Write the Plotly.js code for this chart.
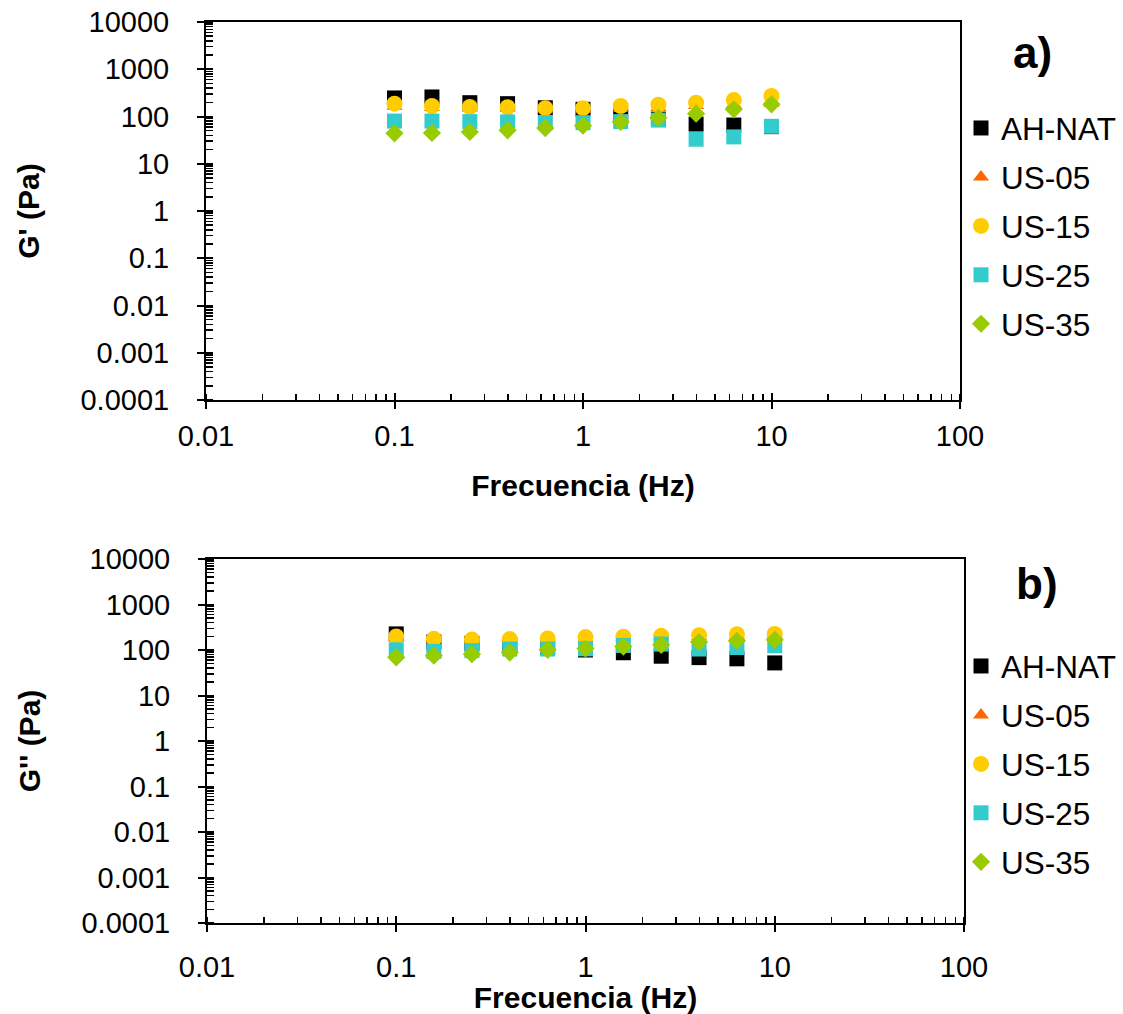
<!DOCTYPE html>
<html>
<head>
<meta charset="utf-8">
<script src="https://cdn.plot.ly/plotly-3.0.1.min.js"></script>
<style>html,body{margin:0;padding:0;background:#fff;}#chart{width:1123px;height:1014px;}</style>
</head>
<body>
<div id="chart"></div>
<script>
// Frequencies (Hz)
const freq = [0.1, 0.158, 0.251, 0.398, 0.631, 1.0, 1.585, 2.512, 3.981, 6.31, 10.0];

// Panel a) G' (Pa)
const gp_AHNAT = [247, 259, 196, 187, 153, 142, 102, 88, 69, 66, 61];
const gp_US05  = [165, 155, 150, 150, 145, 145, 150, 155, 170, 180, 190];
const gp_US15  = [187, 167, 159, 157, 150, 150, 167, 178, 196, 223, 272];
const gp_US25  = [80, 80, 78, 77, 74, 74, 78, 84, 33, 37, 62];
const gp_US35  = [44, 45, 47, 51, 57, 64, 77, 94, 115, 142, 181];

// Panel b) G'' (Pa)
const gpp_AHNAT = [226, 150, 140, 130, 115, 100, 87, 73, 68, 64, 52];
const gpp_US05  = [188, 167, 162, 165, 171, 182, 186, 195, 201, 212, 215];
const gpp_US15  = [198, 176, 171, 174, 180, 192, 196, 205, 212, 223, 226];
const gpp_US25  = [101, 93, 97, 105, 105, 106, 126, 135, 105, 113, 124];
const gpp_US35  = [69, 75, 81, 88, 101, 108, 119, 130, 149, 159, 167];

const seriesNames = ["AH-NAT", "US-05", "US-15", "US-25", "US-35"];
const seriesColors = ["#000000", "#FF6600", "#FFCC00", "#33CCCC", "#99CC00"];
const seriesSymbols = ["square", "triangle-up", "circle", "square", "diamond"];
const seriesSizes = [15, 14, 16, 15, 14];

const yTickVals = [0.0001, 0.001, 0.01, 0.1, 1, 10, 100, 1000, 10000];
const yTickText = ["0.0001", "0.001", "0.01", "0.1", "1", "10", "100", "1000", "10000"];
const xTickVals = [0.01, 0.1, 1, 10, 100];
const xTickText = ["0.01", "0.1", "1", "10", "100"];

const panelA = [gp_AHNAT, gp_US05, gp_US15, gp_US25, gp_US35];
const panelB = [gpp_AHNAT, gpp_US05, gpp_US15, gpp_US25, gpp_US35];

const FONT = "Arial, Liberation Sans, sans-serif";
const TICKSIZE = 29, TITLESIZE = 30, LEGSIZE = 31.5;
const traces = [];
function addPanel(data, xa, ya, legendId) {
  data.forEach((vals, i) => {
    traces.push({
      type: "scatter", mode: "markers",
      x: freq, y: vals, xaxis: xa, yaxis: ya,
      name: seriesNames[i], legend: legendId, legendgroup: legendId + i,
      marker: {symbol: seriesSymbols[i], color: seriesColors[i], size: seriesSizes[i], line: {width: 0}},
      cliponaxis: false
    });
  });
}
addPanel(panelA, "x", "y", "legend");
addPanel(panelB, "x2", "y2", "legend2");
// empty helper traces so the tick-only overlay axes get drawn
traces.push({type: "scatter", mode: "markers", x: [], y: [], xaxis: "x3", yaxis: "y3", showlegend: false, hoverinfo: "skip"});
traces.push({type: "scatter", mode: "markers", x: [], y: [], xaxis: "x4", yaxis: "y4", showlegend: false, hoverinfo: "skip"});

function xAxis(domain, anchor, labelStandoff, titleStandoff) {
  return {
    type: "log", domain: domain, anchor: anchor, range: [-2, 2],
    tickvals: xTickVals, ticktext: xTickText,
    showline: true, linecolor: "#000", linewidth: 2, mirror: true,
    ticks: "outside", ticklen: 7, tickwidth: 2, tickcolor: "#000",
    ticklabelstandoff: labelStandoff,
    minor: {ticks: "inside", ticklen: 6, tickwidth: 1.5, tickcolor: "#000", dtick: "D1", showgrid: false},
    showgrid: false, zeroline: false,
    tickfont: {family: FONT, size: TICKSIZE, color: "#000"},
    title: {text: "<b>Frecuencia (Hz)</b>", font: {family: FONT, size: TITLESIZE, color: "#000"}, standoff: titleStandoff}
  };
}
function yAxis(domain, anchor, title) {
  return {
    type: "log", domain: domain, anchor: anchor, range: [-4, 4],
    tickvals: yTickVals, ticktext: yTickText,
    showline: true, linecolor: "#000", linewidth: 2, mirror: true,
    ticks: "outside", ticklen: 7, tickwidth: 2, tickcolor: "#000",
    ticklabelstandoff: 22,
    minor: {ticks: "inside", ticklen: 7, tickwidth: 1.5, tickcolor: "#000", dtick: "D1", showgrid: false},
    showgrid: false, zeroline: false,
    tickfont: {family: FONT, size: TICKSIZE, color: "#000"},
    title: {text: "<b>" + title + "</b>", font: {family: FONT, size: TITLESIZE, color: "#000"}, standoff: 32}
  };
}
// overlay axes that only add the inner half of the major ticks (crossing ticks)
function xInner(over, anchor, domain) {
  return {type: "log", overlaying: over, anchor: anchor, domain: domain, range: [-2, 2],
    tickvals: xTickVals, ticks: "inside", ticklen: 7, tickwidth: 2, tickcolor: "#000",
    showticklabels: false, showline: false, showgrid: false, zeroline: false};
}
function yInner(over, anchor, domain) {
  return {type: "log", overlaying: over, anchor: anchor, domain: domain, range: [-4, 4],
    tickvals: yTickVals, ticks: "inside", ticklen: 7, tickwidth: 2, tickcolor: "#000",
    showticklabels: false, showline: false, showgrid: false, zeroline: false};
}

const W = 1123, H = 1014;
const xdA = [206 / W, 960 / W], ydA = [1 - 400 / H, 1 - 22 / H];
const xdB = [207 / W, 964 / W], ydB = [1 - 923 / H, 1 - 559 / H];
const legendBase = {
  font: {family: FONT, size: LEGSIZE, color: "#000"},
  bgcolor: "rgba(0,0,0,0)", borderwidth: 0,
  xanchor: "left", yanchor: "top", tracegroupgap: 5, itemsizing: "trace"
};
const layout = {
  width: W, height: H,
  margin: {l: 0, r: 0, t: 0, b: 0},
  paper_bgcolor: "#fff", plot_bgcolor: "#fff",
  showlegend: true,
  xaxis: xAxis(xdA, "y", 2, 24),
  yaxis: yAxis(ydA, "x", "G' (Pa)"),
  xaxis2: xAxis(xdB, "y2", 10, 12),
  yaxis2: yAxis(ydB, "x2", "G'' (Pa)"),
  xaxis3: xInner("x", "y3", xdA),
  yaxis3: yInner("y", "x3", ydA),
  xaxis4: xInner("x2", "y4", xdB),
  yaxis4: yInner("y2", "x4", ydB),
  legend: Object.assign({}, legendBase, {x: 961 / W, y: 1 - 101 / H}),
  legend2: Object.assign({}, legendBase, {x: 961 / W, y: 1 - 639 / H}),
  annotations: [
    {text: "<b>a)</b>", xref: "paper", yref: "paper", x: 1032 / W, y: 1 - 52 / H, showarrow: false,
     xanchor: "center", yanchor: "middle", font: {family: FONT, size: 44, color: "#000"}},
    {text: "<b>b)</b>", xref: "paper", yref: "paper", x: 1037 / W, y: 1 - 583 / H, showarrow: false,
     xanchor: "center", yanchor: "middle", font: {family: FONT, size: 44, color: "#000"}}
  ]
};
Plotly.newPlot("chart", traces, layout, {displayModeBar: false, staticPlot: true});
</script>
</body>
</html>
